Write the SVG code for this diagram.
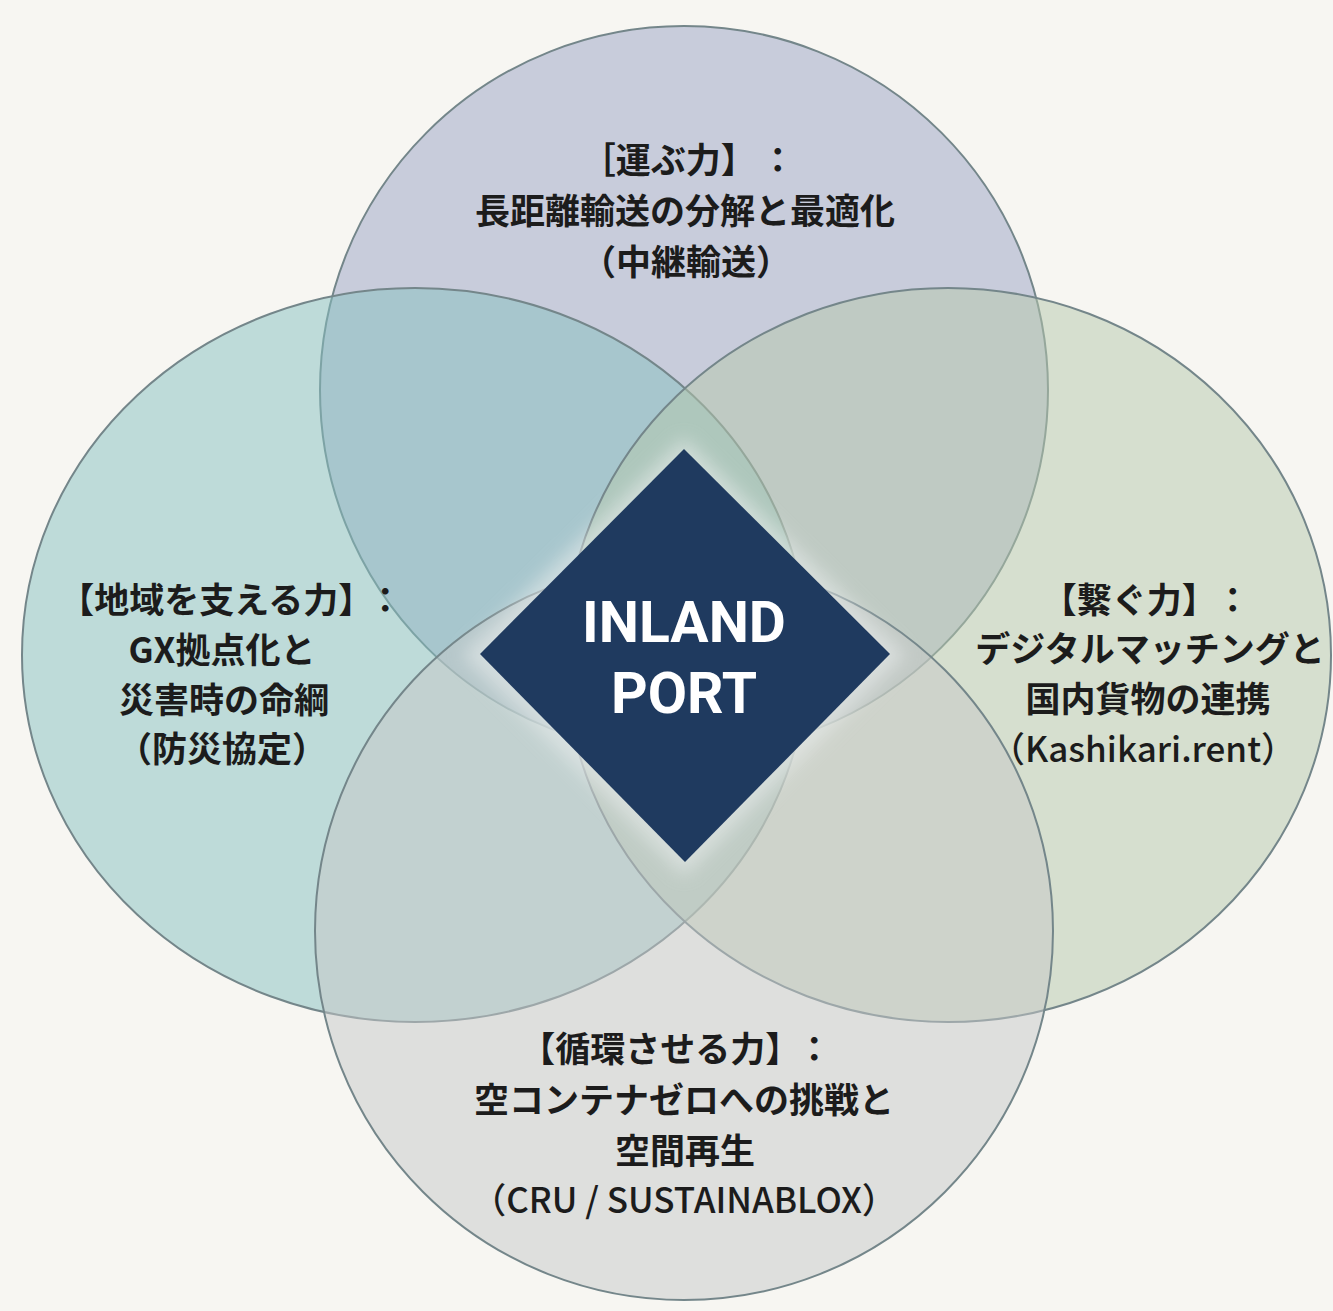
<svg xmlns="http://www.w3.org/2000/svg" width="1333" height="1311" viewBox="0 0 1333 1311">
  <defs>
    <style>
      .circle { stroke: #74868a; stroke-width: 2; fill-opacity: 0.5; }
      .lbl { font-family: 'Noto Sans CJK JP', 'Noto Sans', sans-serif; font-size: 35px; font-weight: 700; fill: #1c1c1c; text-anchor: middle; }
      .lat { font-weight: 500; }
      .core { font-family: Roboto, 'Liberation Sans', sans-serif; font-size: 57px; font-weight: 700; fill: #ffffff; text-anchor: middle; }
    </style>
    <filter id="glow" x="-20%" y="-20%" width="140%" height="140%">
      <feGaussianBlur stdDeviation="9"/>
    </filter>
  </defs>
  <rect x="0" y="0" width="1333" height="1311" fill="#f7f6f2"/>

  <g id="node-top">
    <circle class="circle" cx="684" cy="390" r="364" fill="#9aa1c4"/>
    <text class="lbl" x="688" y="173">［運ぶ力】<tspan dx="22">：</tspan></text>
    <text class="lbl" x="685" y="224">長距離輸送の分解と最適化</text>
    <text class="lbl" x="686" y="275">（中継輸送）</text>
  </g>

  <g id="node-left">
    <ellipse class="circle" cx="415" cy="655" rx="393" ry="367" fill="#85bfbf"/>
    <text class="lbl" x="231" y="613">【地域を支える力】<tspan dx="12">：</tspan></text>
    <text class="lbl" x="222" y="663">GX拠点化と</text>
    <text class="lbl" x="224" y="713">災害時の命綱</text>
    <text class="lbl" x="222" y="762">（防災協定）</text>
  </g>

  <g id="node-right">
    <ellipse class="circle" cx="948" cy="655" rx="383" ry="367" fill="#b5c7ab"/>
    <text class="lbl" x="1146" y="613">【繋ぐ力】<tspan dx="16">：</tspan></text>
    <text class="lbl" x="1150" y="662">デジタルマッチングと</text>
    <text class="lbl" x="1148" y="712">国内貨物の連携</text>
    <text class="lbl lat" x="1143" y="762">（Kashikari.rent）</text>
  </g>

  <g id="node-bottom">
    <circle class="circle" cx="684" cy="931" r="369" fill="#c5c7c7"/>
    <text class="lbl" x="676" y="1062">【循環させる力】<tspan dx="14">：</tspan></text>
    <text class="lbl" x="684" y="1113">空コンテナゼロへの挑戦と</text>
    <text class="lbl" x="685" y="1164">空間再生</text>
    <text class="lbl lat" x="684" y="1213">（CRU / SUSTAINABLOX）</text>
  </g>

  <g id="connectors"></g>

  <g id="node-center">
    <polygon points="684,438 906,655 684,876 462,655" fill="#e8ecec" opacity="0.6" filter="url(#glow)"/>
    <polygon points="684,449 890,654 685,862 480,654" fill="#1f3a5f"/>
    <text class="core" x="684" y="642">INLAND</text>
    <text class="core" x="684" y="713">PORT</text>
  </g>
</svg>
